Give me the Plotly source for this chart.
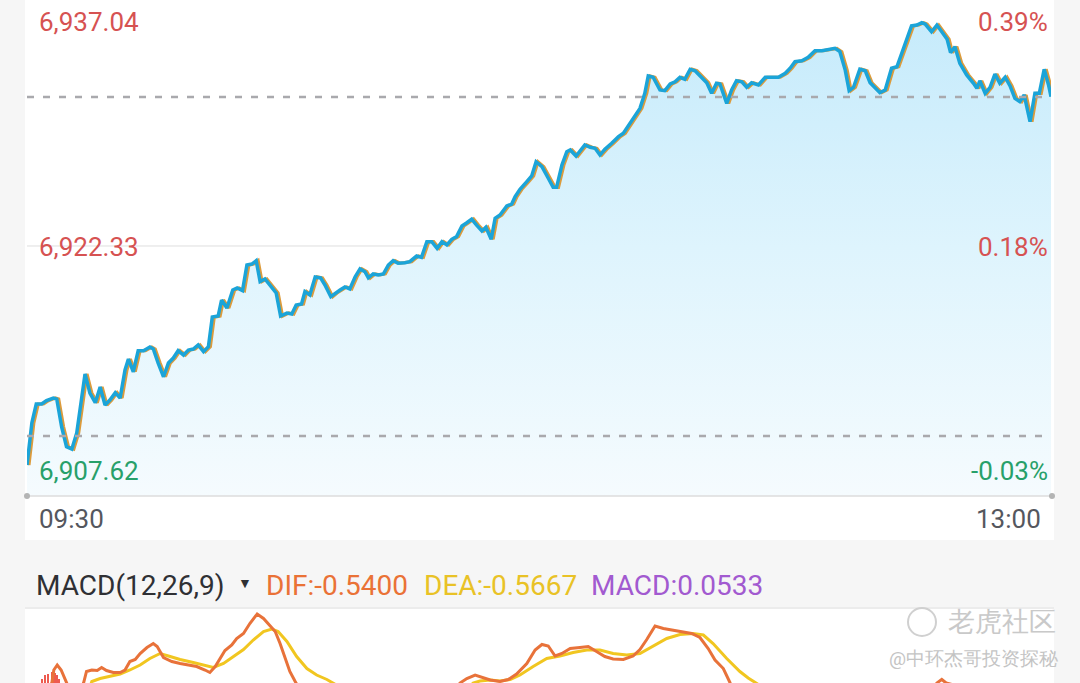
import plotly.graph_objects as go

W, H = 1080, 683

# intraday price, minutes after 09:30
PRICE_MIN = [0, 1.0, 1.9, 3.0, 4.0, 5.4, 6.1, 7.1, 8.1, 9.2, 10.2, 11.9, 12.9, 14.0, 15.0,
             16.0, 17.0, 18.1, 19.1, 20.1, 20.8, 21.8, 22.8, 23.9, 25.2, 25.9, 26.9, 28.0,
             29.0, 30.0, 31.0, 32.1, 33.1, 34.1, 35.1, 36.2, 37.2, 38.0, 39.2, 39.9, 41.0,
             42.2, 43.1, 44.2, 45.1, 46.1, 47.0, 47.8, 48.8, 49.8, 51.1, 52.0, 53.3, 54.3,
             55.2, 56.3, 57.0, 58.0, 59.1, 60.2, 61.1, 62.3, 63.2, 64.2, 65.2, 66.2, 67.3,
             68.3, 69.3, 70.0, 71.0, 72.0, 73.1, 74.1, 75.1, 76.1, 77.5, 78.5, 79.9, 80.9,
             82.0, 83.0, 84.1, 85.1, 86.1, 87.1, 88.1, 89.2, 90.2, 91.2, 92.2, 93.3, 94.1,
             95.2, 96.0, 97.0, 98.4, 99.4, 100.1, 101.1, 102.5, 103.5, 104.4, 105.6, 106.9,
             107.9, 108.6, 109.7, 110.7, 111.4, 112.6, 113.6, 114.4, 115.5, 116.5, 117.5,
             118.5, 119.9, 121.3, 122.3, 123.3, 124.3, 125.7, 126.7, 127.4, 128.4, 129.8,
             130.8, 131.9, 132.9, 133.9, 134.9, 136.0, 137.0, 138.0, 139.4, 140.4, 141.4,
             142.1, 143.5, 144.5, 145.5, 146.6, 147.6, 148.6, 150.0, 151.4, 152.7, 154.1,
             155.5, 156.5, 157.5, 158.9, 160.2, 161.6, 163.0, 164.3, 165.7, 166.7, 167.8,
             168.6, 169.5, 170.8, 171.9, 172.9, 173.9, 174.9, 176.0, 177.3, 178.4, 179.7,
             181.4, 182.5, 183.5, 184.2, 185.5, 186.6, 187.6, 188.7, 189.4, 190.3, 191.3,
             192.7, 194.1, 194.8, 195.4, 196.5, 197.5, 198.5, 199.5, 200.6, 201.6, 202.6,
             203.6, 204.5, 205.7, 206.7, 207.6, 208.6, 209.5, 210.0]
PRICE = [6909.23, 6911.75, 6912.88, 6912.88, 6913.08, 6913.24, 6913.18, 6911.52, 6910.33,
         6910.19, 6911.15, 6914.68, 6913.54, 6912.96, 6913.90, 6912.82, 6913.12, 6913.56,
         6913.24, 6914.92, 6915.57, 6914.81, 6916.07, 6916.07, 6916.29, 6916.17, 6915.33,
         6914.51, 6915.33, 6915.63, 6916.07, 6915.81, 6916.11, 6916.17, 6916.41, 6916.01,
         6916.31, 6918.08, 6918.14, 6919.10, 6918.62, 6919.70, 6919.82, 6919.66, 6921.19,
         6921.25, 6921.45, 6920.20, 6920.36, 6920.00, 6919.52, 6918.14, 6918.32, 6918.26,
         6918.80, 6918.86, 6919.60, 6919.40, 6920.48, 6920.42, 6920.00, 6919.30, 6919.52,
         6919.70, 6919.88, 6919.76, 6920.49, 6920.96, 6920.79, 6920.42, 6920.66, 6920.60,
         6920.66, 6921.19, 6921.45, 6921.30, 6921.33, 6921.39, 6921.73, 6921.65, 6922.59,
         6922.59, 6922.19, 6922.59, 6922.39, 6922.73, 6922.89, 6923.53, 6923.72, 6923.94,
         6923.58, 6923.23, 6923.45, 6922.73, 6923.99, 6924.18, 6924.72, 6924.84, 6925.28,
         6925.72, 6926.18, 6926.52, 6927.37, 6927.07, 6926.38, 6925.84, 6925.84, 6927.17,
         6927.97, 6928.07, 6927.71, 6928.11, 6928.37, 6928.23, 6928.17, 6927.77, 6928.11,
         6928.47, 6928.87, 6929.07, 6929.51, 6929.97, 6930.56, 6931.46, 6932.50, 6932.42,
         6931.66, 6931.62, 6932.02, 6932.15, 6932.42, 6932.30, 6932.90, 6932.81, 6932.50,
         6932.09, 6931.46, 6932.06, 6932.02, 6930.86, 6931.66, 6932.21, 6932.15, 6931.82,
         6932.09, 6931.96, 6932.42, 6932.42, 6932.42, 6932.66, 6932.96, 6933.35, 6933.41,
         6933.61, 6934.01, 6934.01, 6934.09, 6934.15, 6933.95, 6932.85, 6931.62, 6931.82,
         6932.90, 6932.81, 6932.09, 6931.82, 6931.50, 6931.66, 6932.96, 6933.05, 6934.05,
         6935.49, 6935.54, 6935.68, 6935.60, 6935.14, 6935.54, 6935.14, 6934.69, 6933.89,
         6934.25, 6933.25, 6932.56, 6932.06, 6931.76, 6932.21, 6931.46, 6931.82, 6932.61,
         6932.06, 6932.42, 6931.90, 6931.16, 6930.96, 6931.36, 6929.76, 6931.46, 6931.46,
         6932.90, 6931.96, 6931.26]

Y_TOP, Y_MID, Y_LOW = 6937.04, 6922.33, 6907.62
Y_MIN = 6907.38
LAST_PRICE = 6931.24
REF_PRICE = 6910.97
PCT_LABELS = ["0.39%", "0.18%", "-0.03%"]
TIME_LABELS = ["09:30", "13:00"]

# MACD panel
DIF_MIN = [3.7, 5.1, 5.5, 6.2, 7.0, 8.0, 9.2, 10.9, 11.6, 12.2, 13.3, 14.4, 15.3, 16.3, 17.7,
           19.1, 20.1, 21.1, 22.2, 23.2, 24.6, 25.9, 26.7, 28.0, 29.7, 31.4, 33.1, 34.8,
           36.5, 37.5, 38.6, 39.6, 40.6, 42.0, 43.0, 44.4, 45.7, 47.2, 48.5, 49.7, 50.9,
           51.9, 52.9, 53.9, 55.0, 56.0, 72.4, 87.8, 88.8, 90.2, 91.9, 93.3, 95.0, 97.0,
           98.7, 100.4, 102.5, 104.2, 105.6, 106.9, 108.3, 109.7, 111.4, 113.4, 115.1,
           116.8, 118.5, 120.2, 122.3, 124.3, 125.7, 127.1, 128.8, 130.5, 132.5, 134.6,
           136.3, 138.0, 139.7, 141.1, 142.8, 144.2, 145.2, 179.0, 185.6, 186.6, 187.6,
           188.5, 210.0]
DIF = [-0.14, 0.0, 0.26, 0.36, 0.26, 0.0, -0.24, -0.14, 0.0, 0.23, 0.26, 0.25, 0.31, 0.25,
       0.21, 0.21, 0.26, 0.43, 0.47, 0.59, 0.71, 0.79, 0.73, 0.51, 0.43, 0.39, 0.36, 0.33,
       0.26, 0.21, 0.33, 0.49, 0.65, 0.76, 0.89, 0.99, 1.19, 1.38, 1.29, 1.16, 1.03, 0.79,
       0.49, 0.23, 0.03, -0.14, -0.34, -0.14, 0.0, 0.09, 0.16, 0.11, 0.06, 0.03, 0.07, 0.18,
       0.39, 0.66, 0.77, 0.74, 0.54, 0.59, 0.69, 0.71, 0.73, 0.63, 0.53, 0.48, 0.47, 0.54,
       0.67, 0.87, 1.14, 1.09, 1.06, 1.03, 0.99, 0.91, 0.69, 0.46, 0.29, 0.0, -0.18, -0.34,
       -0.14, 0.0, 0.07, 0.0, -0.54]
DEA_MIN = [11.9, 13.3, 15.0, 17.0, 19.1, 21.1, 23.2, 25.2, 27.3, 29.0, 31.4, 34.1, 36.9,
           38.2, 40.3, 42.3, 44.4, 46.4, 48.5, 50.2, 51.5, 53.3, 55.3, 57.4, 59.4, 61.5,
           62.8, 65.2, 76.5, 89.8, 91.5, 92.9, 95.0, 97.0, 99.1, 101.1, 103.8, 106.6, 109.3,
           112.0, 114.8, 117.5, 120.2, 123.0, 125.7, 128.4, 131.2, 133.9, 136.6, 138.7,
           140.7, 143.5, 146.2, 147.9, 149.6, 152.4, 210.0]
DEA = [-0.34, 0.03, 0.09, 0.14, 0.18, 0.26, 0.36, 0.49, 0.59, 0.54, 0.47, 0.41, 0.34, 0.31,
       0.39, 0.53, 0.67, 0.86, 1.03, 1.08, 1.03, 0.83, 0.53, 0.29, 0.16, 0.07, 0.0, -0.14,
       -0.34, -0.18, 0.0, 0.04, 0.06, 0.04, 0.07, 0.16, 0.33, 0.49, 0.54, 0.61, 0.66, 0.66,
       0.59, 0.56, 0.59, 0.73, 0.89, 0.97, 0.99, 0.96, 0.79, 0.49, 0.23, 0.1, 0.0, -0.18,
       -0.57]
HIST_MIN = [3.2, 3.7, 4.4, 5.1, 5.7, 6.2, 6.6]
HIST = [0.09, 0.16, 0.19, 0.23, 0.21, 0.16, 0.09]
MACD_TOP = 1.46

BLUE = "#1ba4d8"
ORANGE = "#dc9b3c"
ORANGE_LAG = 0.4
RED = "#d65252"
GREEN = "#27a06a"
FONT = "Roboto"


def px_x(p):
    return p / W


def px_y(p):
    return 1 - p / H


fig = go.Figure()

# baseline for the gradient fill
fig.add_trace(go.Scatter(x=[PRICE_MIN[0], PRICE_MIN[-1]], y=[Y_MIN, Y_MIN], mode="lines",
                         line=dict(width=0), hoverinfo="skip", showlegend=False))
fig.add_trace(go.Scatter(x=PRICE_MIN, y=PRICE, mode="lines", line=dict(width=0),
                         fill="tonexty",
                         fillgradient=dict(type="vertical", start=Y_MIN, stop=Y_TOP,
                                           colorscale=[[0, "rgb(245,251,254)"],
                                                       [0.5, "rgb(222,244,253)"],
                                                       [1, "rgb(196,234,251)"]]),
                         hoverinfo="skip", showlegend=False))
fig.add_trace(go.Scatter(x=[m + ORANGE_LAG for m in PRICE_MIN], y=PRICE, mode="lines",
                         line=dict(color=ORANGE, width=3.2), showlegend=False))
fig.add_trace(go.Scatter(x=PRICE_MIN, y=PRICE, mode="lines",
                         line=dict(color=BLUE, width=3.5), showlegend=False))

# MACD
fig.add_trace(go.Bar(x=HIST_MIN, y=HIST, marker=dict(color="#ee5a4f", line=dict(width=0)),
                     width=0.33, xaxis="x2", yaxis="y2", showlegend=False))
fig.add_trace(go.Scatter(x=DEA_MIN, y=DEA, mode="lines", line=dict(color="#f1c620", width=3),
                         xaxis="x2", yaxis="y2", showlegend=False))
fig.add_trace(go.Scatter(x=DIF_MIN, y=DIF, mode="lines", line=dict(color="#e8723a", width=3),
                         xaxis="x2", yaxis="y2", showlegend=False))

xdom = [px_x(27), px_x(1051)]
axis_off = dict(showgrid=False, zeroline=False, showticklabels=False, ticks="", showline=False)

shapes = [
    dict(type="rect", xref="paper", yref="paper", x0=px_x(25), x1=px_x(1054),
         y0=px_y(540), y1=1, fillcolor="white", line=dict(width=0), layer="below"),
    dict(type="rect", xref="paper", yref="paper", x0=px_x(25), x1=px_x(1054),
         y0=0, y1=px_y(609), fillcolor="white", line=dict(width=0), layer="below"),
    dict(type="line", xref="paper", yref="paper", x0=px_x(25), x1=px_x(1054),
         y0=px_y(608), y1=px_y(608), line=dict(color="#e2e2e2", width=1)),
    dict(type="line", xref="x domain", yref="y", x0=0, x1=1, y0=Y_MID, y1=Y_MID,
         line=dict(color="#dedede", width=1), layer="below"),
    dict(type="line", xref="x domain", yref="y", x0=0, x1=1, y0=LAST_PRICE, y1=LAST_PRICE,
         line=dict(color="#a9a9ad", width=2.5, dash="7px,9px")),
    dict(type="line", xref="x domain", yref="y", x0=0, x1=1, y0=REF_PRICE, y1=REF_PRICE,
         line=dict(color="#a9a9ad", width=2.5, dash="7px,9px")),
    dict(type="line", xref="paper", yref="paper", x0=px_x(27), x1=px_x(1052),
         y0=px_y(496), y1=px_y(496), line=dict(color="#dcdcdc", width=1.5)),
]
for cx in (27, 1052):
    shapes.append(dict(type="circle", xref="paper", yref="paper",
                       x0=px_x(cx - 3), x1=px_x(cx + 3), y0=px_y(499), y1=px_y(493),
                       fillcolor="#b4b4b4", line=dict(width=0)))
# watermark logo
shapes.append(dict(type="circle", xref="paper", yref="paper", x0=px_x(908), x1=px_x(936),
                   y0=px_y(636), y1=px_y(608), line=dict(color="#d0d0d0", width=2)))


def label(text, x, y, color, size=26, anchor="left"):
    return dict(text=text, xref="paper", yref="paper", x=px_x(x), y=px_y(y),
                xanchor=anchor, yanchor="middle", showarrow=False,
                font=dict(family=FONT, size=size, color=color))


annotations = [
    label(f"{Y_TOP:,.2f}", 37, 22, RED),
    label(f"{Y_MID:,.2f}", 37, 247, RED),
    label(f"{Y_LOW:,.2f}", 37, 471, GREEN),
    label(PCT_LABELS[0], 1050, 22, RED, anchor="right"),
    label(PCT_LABELS[1], 1050, 247, RED, anchor="right"),
    label(PCT_LABELS[2], 1050, 471, GREEN, anchor="right"),
    label(TIME_LABELS[0], 37, 519, "#55575e", size=26),
    label(TIME_LABELS[1], 1043, 519, "#55575e", size=26, anchor="right"),
    label("MACD(12,26,9)", 34, 585, "#2f3034", size=28),
    label("▼", 236, 583, "#2f3034", size=14),
    label("DIF:-0.5400", 264, 585, "#ea7236", size=28),
    label("DEA:-0.5667", 422, 585, "#e9c226", size=28),
    label("MACD:0.0533", 589, 585, "#a25ad0", size=28),
    label("老虎社区", 1058, 622, "#c9c9c9", size=27, anchor="right"),
    label("@中环杰哥投资探秘", 1060, 658, "#c4c4c4", size=19, anchor="right"),
]

fig.update_layout(
    width=W, height=H,
    margin=dict(l=0, r=0, t=0, b=0),
    paper_bgcolor="#f6f6f6",
    plot_bgcolor="rgba(0,0,0,0)",
    showlegend=False,
    bargap=0,
    xaxis=dict(domain=xdom, range=[0, 210], **axis_off),
    yaxis=dict(domain=[px_y(496), 1], range=[Y_MIN, Y_TOP], **axis_off),
    xaxis2=dict(domain=xdom, range=[0, 210], anchor="y2", **axis_off),
    yaxis2=dict(domain=[0, px_y(610)], range=[0, MACD_TOP], anchor="x2", **axis_off),
    shapes=shapes,
    annotations=annotations,
)

# the page's default body margin would shift the chart by 8px
fig.write_html("out.html", config={"displayModeBar": False},
               post_script="document.body.style.margin='0';")
